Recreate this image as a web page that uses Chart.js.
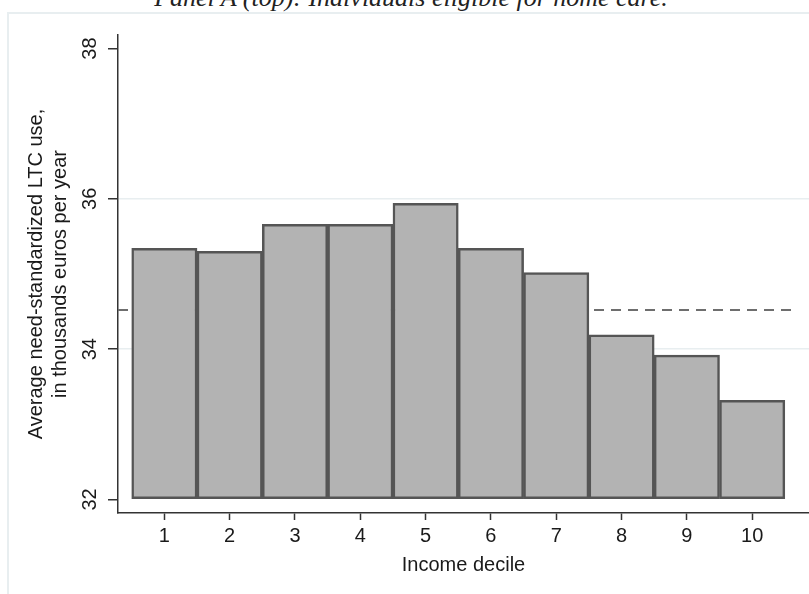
<!DOCTYPE html>
<html>
<head>
<meta charset="utf-8">
<script src="https://cdn.jsdelivr.net/npm/chart.js@4.4.1/dist/chart.umd.min.js"></script>
<style>
  body { margin: 0; background: #fff; }
  #wrap { position: relative; width: 809px; height: 594px; overflow: hidden; }
  #caption {
    position: absolute; left: 0; width: 822px; top: -15px;
    text-align: center; white-space: nowrap; color: #222;
    font: italic 26px "Liberation Serif", serif; line-height: 26px;
  }
  #frame {
    position: absolute; left: 7px; top: 12px; right: -5px; bottom: -5px;
    border-left: 2px solid #e8eef0; border-top: 2px solid #e8eef0;
  }
  canvas { position: absolute; left: 0; top: 0; }
</style>
</head>
<body>
<div id="wrap">
  <div id="caption">Panel A (top): Individuals eligible for home care.</div>
  <div id="frame"></div>
  <canvas id="myChart" width="809" height="594"></canvas>
</div>
<script>
  // values
  const deciles = [1, 2, 3, 4, 5, 6, 7, 8, 9, 10]
  const ltcUse = [35.34, 35.30, 35.66, 35.66, 35.94, 35.34, 35.02, 34.19, 33.92, 33.32]
  const yTicks = [32, 34, 36, 38]
  const gridValues = [34, 36]
  const overallMean = 34.52
  const meanLineX = [0.29, 10.69]

  const font = { family: "'Liberation Sans', Arial, sans-serif", size: 20 }
  const ink = "#1a1a1a"

  const ctx = document.getElementById("myChart").getContext("2d")
  new Chart(ctx, {
    type: "bar",
    data: {
      datasets: [
        {
          label: "LTC use",
          data: deciles.map((d, i) => ({ x: d, y: ltcUse[i] })),
          base: 32,
          backgroundColor: "#b3b3b3",
          borderColor: "#555",
          borderWidth: 2.5,
          borderSkipped: false,
          barPercentage: 1,
          categoryPercentage: 1,
          order: 1
        },
        {
          type: "line",
          label: "Mean",
          data: meanLineX.map(x => ({ x: x, y: overallMean })),
          borderColor: "#6e6e6e",
          borderWidth: 2,
          borderDash: [10, 7],
          pointRadius: 0,
          fill: false,
          order: 2
        }
      ]
    },
    options: {
      responsive: false,
      animation: false,
      devicePixelRatio: 1,
      layout: { padding: { top: 35, left: 0, right: 0, bottom: 0 } },
      plugins: { legend: { display: false }, tooltip: { enabled: false } },
      scales: {
        x: {
          type: "linear",
          offset: false,
          min: 0.29,
          max: 10.87,
          afterBuildTicks: s => { s.ticks = deciles.map(v => ({ value: v })) },
          afterFit: s => { s.height = 81 },
          border: { color: "#333", width: 1.5 },
          grid: { offset: false, drawOnChartArea: false, tickLength: 7, tickColor: "#333", tickWidth: 1.5 },
          ticks: { color: ink, font: font, padding: 4, autoSkip: false, maxRotation: 0 },
          title: { display: true, text: "Income decile", color: ink, font: font, padding: { top: 0, bottom: 17 } }
        },
        y: {
          min: 31.82,
          max: 38.18,
          afterBuildTicks: s => { s.ticks = yTicks.map(v => ({ value: v })) },
          afterFit: s => { s.width = 118 },
          border: { color: "#333", width: 1.5 },
          grid: {
            color: c => gridValues.includes(c.tick.value) ? "#e8eef0" : "rgba(0,0,0,0)",
            lineWidth: 1.5,
            tickLength: 10,
            tickColor: "#333",
            tickWidth: 1.5
          },
          ticks: {
            color: ink, font: font, padding: 6,
            minRotation: 90, maxRotation: 90, crossAlign: "center",
            callback: v => String(v)
          },
          title: {
            display: true,
            text: ["Average need-standardized LTC use,", "in thousands euros per year"],
            color: ink, font: font, padding: { top: 24, bottom: 0 }
          }
        }
      }
    }
  })
</script>
</body>
</html>
